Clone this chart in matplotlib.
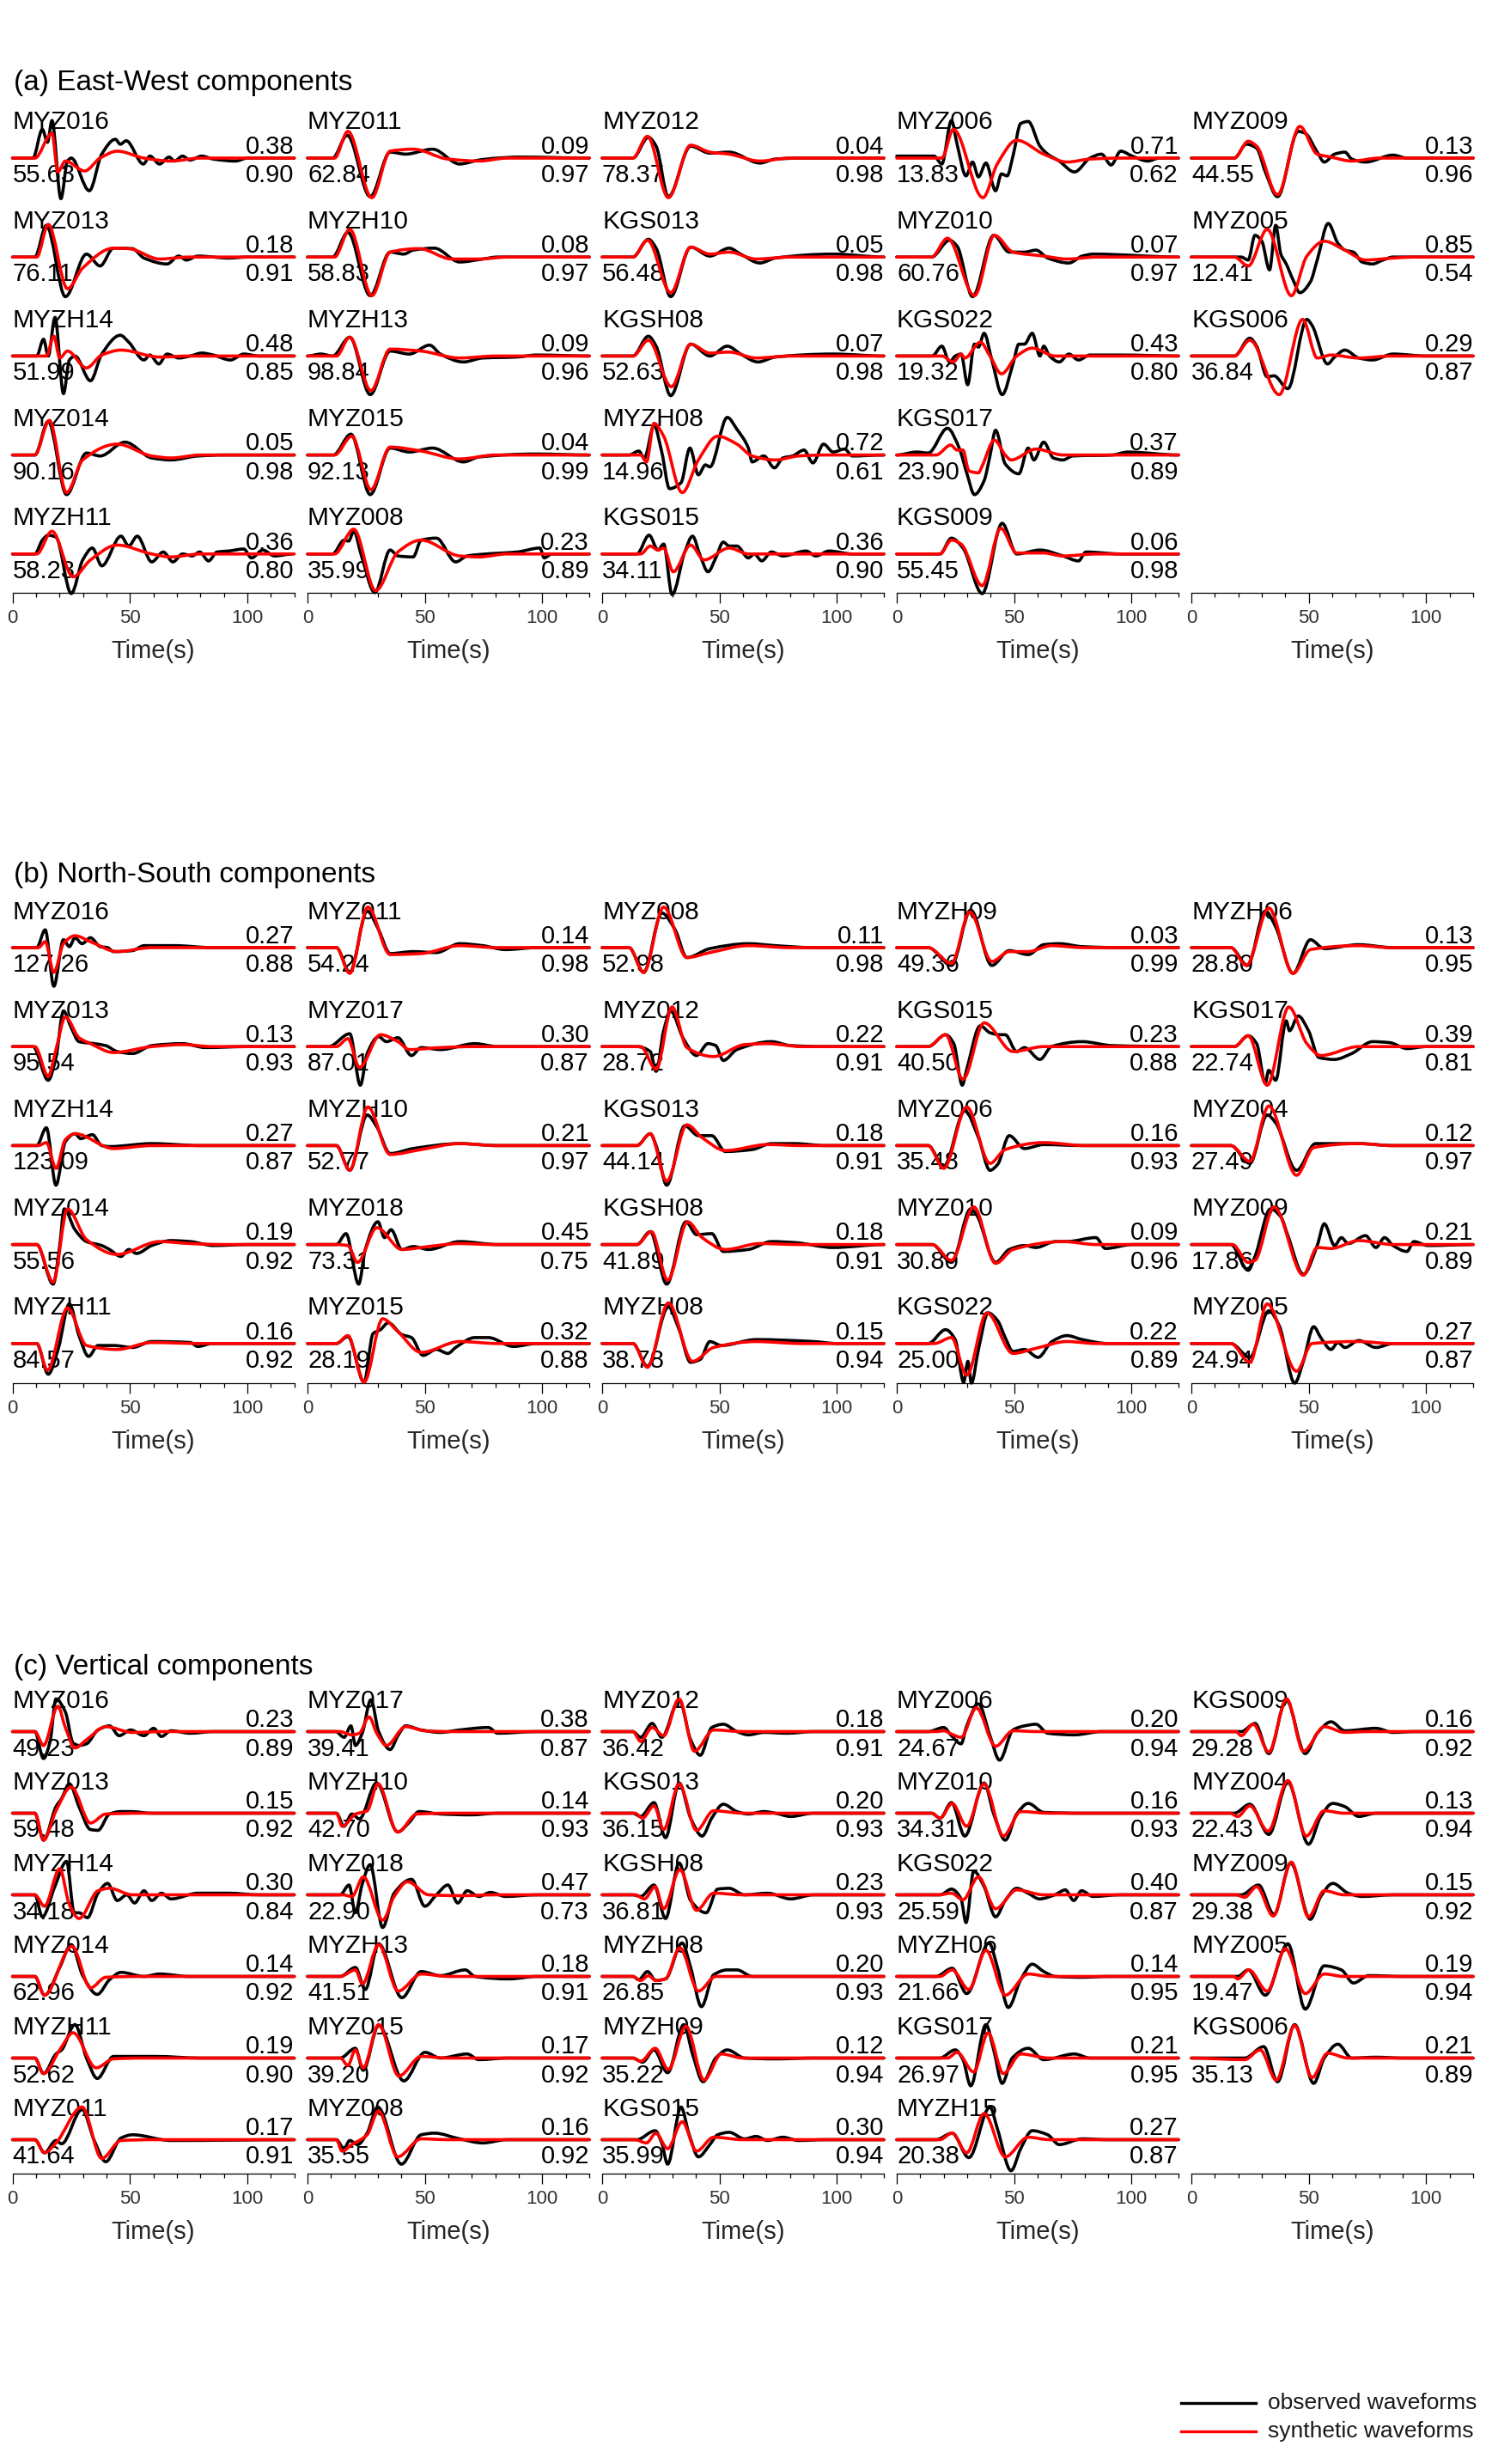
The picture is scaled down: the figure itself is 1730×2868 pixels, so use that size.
import numpy as np
import matplotlib.pyplot as plt
from matplotlib.path import Path
from matplotlib.patches import PathPatch
from matplotlib.ticker import MultipleLocator

plt.rcParams['font.family'] = ['Liberation Sans', 'DejaVu Sans']

# ---------------- (a) East-West ----------------
EW_ROWS = [5, 5, 5, 5, 3]
EW_NAMES = ['MYZ016', 'MYZ013', 'MYZH14', 'MYZ014', 'MYZH11',
            'MYZ011', 'MYZH10', 'MYZH13', 'MYZ015', 'MYZ008',
            'MYZ012', 'KGS013', 'KGSH08', 'MYZH08', 'KGS015',
            'MYZ006', 'MYZ010', 'KGS022', 'KGS017', 'KGS009',
            'MYZ009', 'MYZ005', 'KGS006']
EW_VR = ['0.38', '0.18', '0.48', '0.05', '0.36',
         '0.09', '0.08', '0.09', '0.04', '0.23',
         '0.04', '0.05', '0.07', '0.72', '0.36',
         '0.71', '0.07', '0.43', '0.37', '0.06',
         '0.13', '0.85', '0.29']
EW_AMP = ['55.63', '76.11', '51.99', '90.16', '58.23',
          '62.84', '58.83', '98.84', '92.13', '35.99',
          '78.37', '56.48', '52.63', '14.96', '34.11',
          '13.83', '60.76', '19.32', '23.90', '55.45',
          '44.55', '12.41', '36.84']
EW_CC = ['0.90', '0.91', '0.85', '0.98', '0.80',
         '0.97', '0.97', '0.96', '0.99', '0.89',
         '0.98', '0.98', '0.98', '0.61', '0.90',
         '0.62', '0.97', '0.80', '0.89', '0.98',
         '0.96', '0.54', '0.87']
EW_OBS = [
    [(0,0),(8.7,0),(12.7,.29),(14.9,.16),(16.8,.38),(20.6,-.41),(23.4,-.03),(25,0),(32.7,-.33),(38,.04),(43.8,.19),(45.9,.14),(48.4,.175),(55.7,-.06),(58.5,.02),(62.6,-.06),(66.7,.01),(69,-.03),(72.4,.02),(75.6,-.02),(80.6,.02),(85.5,-.01),(95,-.03),(100,0),(120,0)],
    [(0,0),(9.5,0),(14.4,.32),(22.5,-.40),(31.5,.03),(37.3,-.09),(43,.09),(51,.085),(56,-.01),(65.8,-.07),(70.8,.01),(74,-.03),(79,.01),(92,-.01),(100,0),(120,0)],
    [(0,0),(10.3,0),(13.2,.17),(15.2,0),(18.1,.39),(21.7,-.38),(24.2,-.04),(26.6,0),(33.2,-.25),(38,.02),(45.9,.21),(49.5,.14),(56,-.04),(58.5,.01),(62.3,-.08),(65.8,.02),(70.8,-.02),(75.7,0),(80.6,.03),(85.5,.01),(92.8,-.04),(98.5,.02),(105,0),(120,0)],
    [(0,0),(9.5,0),(15.2,.34),(23,-.40),(31.5,.02),(37.3,-.01),(47.9,.13),(59.3,-.03),(67.5,-.05),(78.9,-.01),(90,0),(120,0)],
    [(0,0),(9.5,0),(12.7,.14),(15.2,.19),(18.5,.17),(25,-.40),(29.9,-.06),(34,.06),(38,-.12),(46.2,.18),(49.5,.08),(53.1,.18),(59.3,-.08),(64.2,.02),(68.3,-.08),(72.4,0),(76.5,-.02),(79.7,.02),(83.5,-.07),(87.1,.02),(92,.03),(98.5,.05),(101.8,-.04),(106.6,.04),(111.6,-.02),(119.3,0)],
    [(0,0),(10.7,0),(16.9,.23),(26.7,-.39),(35.2,.06),(41.8,.04),(53.3,.09),(64.8,-.06),(73,-.02),(81,0),(90,.01),(120,0)],
    [(0,0),(10.7,0),(17.2,.25),(26.7,-.39),(35.2,.05),(41,.03),(45,.07),(54,.09),(64.8,-.05),(74.6,-.02),(81,0),(120,0)],
    [(0,0),(5.7,.02),(10.7,0),(18,.19),(26.7,-.39),(35.2,.05),(43.4,.02),(52,.11),(56.6,.02),(66.4,-.06),(74.6,-.02),(89.3,-.01),(97.5,.01),(120,0)],
    [(0,0),(11,0),(18.5,.21),(26.7,-.40),(35.2,.07),(43.4,.03),(53.3,.07),(66.4,-.07),(73,-.02),(97.5,.01),(120,0)],
    [(0,0),(10.7,0),(15.6,.14),(17.5,.13),(19.7,.23),(23,-.02),(28.7,-.39),(35.2,.04),(38.5,-.02),(45,-.03),(48.4,.14),(54.9,.16),(63.1,-.08),(68,-.02),(76.2,0),(89.3,.02),(99,.06),(100.8,-.04),(104,0),(120,0)],
    [(0,0),(13.1,0),(19.7,.21),(23,.12),(28.2,-.39),(37.7,.12),(45.9,.05),(54.1,.06),(67.2,-.05),(73.8,-.01),(85,0),(120,0)],
    [(0,0),(13.1,0),(19.7,.18),(23,.09),(29.2,-.40),(37.7,.10),(45.9,.01),(54.1,.09),(59,.03),(67.2,-.06),(73.8,-.01),(98.4,.03),(120,0)],
    [(0,0),(13.1,0),(19.7,.20),(23,.10),(29.2,-.40),(37.7,.12),(45.9,0),(53.3,.10),(59,.02),(66.4,-.06),(73.8,-.01),(98.4,.02),(120,0)],
    [(0,0),(11.5,0),(15.6,.04),(18,-.03),(22.1,.30),(25.4,.03),(28.7,-.34),(33.6,-.28),(37.4,.07),(41,-.20),(44,-.10),(45.9,-.12),(53.3,.38),(57.4,.26),(62.3,.07),(63.9,-.07),(68.9,-.01),(73.4,-.13),(77,-.03),(81.1,-.01),(86,.05),(89.8,-.08),(94.3,.11),(98.4,.03),(103.3,.06),(106.6,-.01),(120,0)],
    [(0,0),(14.8,0),(20,.19),(23.8,.04),(26.2,.10),(29.8,-.41),(35.2,.02),(38.5,.18),(41.8,-.02),(45.1,-.18),(48.4,-.04),(51.6,.12),(54.1,.08),(57.4,.08),(62.3,-.04),(64.8,0),(68,-.07),(72.1,.02),(77,-.02),(86.9,.03),(91,-.02),(96.7,.03),(106.6,0),(120,0)],
    [(0,.02),(15.9,.02),(19.2,-.06),(23.3,.38),(25.7,.14),(29.5,-.18),(32.3,-.04),(34.8,-.19),(38,-.05),(42.1,-.33),(44.6,-.16),(47,-.18),(49.5,.02),(52.8,.35),(56,.37),(61,.12),(64.3,.04),(69.2,-.03),(75.7,-.14),(82.3,0),(87.2,.04),(91.3,-.07),(95.4,.07),(100.3,.02),(106.9,-.03),(111.8,0),(120,0)],
    [(0,0),(14.8,0),(22.5,.17),(25.7,.11),(32.3,-.40),(41.3,.22),(47.9,.05),(54.4,.05),(59.3,.07),(64.3,-.01),(73.3,-.06),(79,.01),(83.9,.03),(120,0)],
    [(0,0),(15.1,0),(19.2,.10),(22.5,-.06),(24.9,0),(27.4,.02),(30.2,-.29),(33.1,.12),(34.8,.09),(37.2,.23),(40.5,-.04),(44.9,-.39),(49.5,-.08),(52,.12),(54.4,.12),(57.7,.23),(61,0),(62.6,.10),(65.1,0),(69.2,-.06),(73.3,.02),(77.4,-.04),(82.3,.01),(95.4,.01),(120,0)],
    [(0,0),(8.5,.03),(13.4,.02),(21.6,.27),(26.6,.07),(29.8,-.18),(33.1,-.40),(37.2,-.26),(39.7,-.01),(42.1,.25),(46.2,-.09),(52,-.19),(56,.07),(58.4,-.05),(62.6,.13),(66.7,-.03),(70.8,-.05),(74.9,-.01),(91.8,0),(98.4,.03),(120,0)],
    [(0,0),(18.4,0),(23.3,.16),(28.2,.06),(36.4,-.40),(44.9,.31),(51.1,0),(61,.04),(70.8,-.02),(77.4,-.07),(80.6,.02),(95.4,0),(120,0)],
    [(0,0),(18.3,0),(23.4,.14),(27.8,.10),(31.5,-.14),(36.7,-.39),(45.5,.27),(48.5,.25),(53.6,.06),(56.6,-.04),(61,.04),(65.4,.06),(68.3,-.01),(74.2,-.04),(85.9,.03),(91.8,0),(120,0)],
    [(0,0),(21.2,0),(24.2,-.03),(27.1,.22),(30,.16),(33.3,-.13),(35.9,.32),(38.1,.03),(40.4,-.07),(43.3,-.23),(46.2,-.36),(50.7,-.25),(53.6,-.03),(58.3,.34),(62.4,.14),(65.4,.07),(69,.05),(72.7,-.05),(77.1,-.07),(81.6,-.03),(86,0),(120,0)],
    [(0,0),(18.3,0),(24.9,.18),(27.8,.10),(32.3,-.21),(35.2,-.20),(41.1,-.33),(49.2,.37),(51.4,.31),(58,-.08),(61,-.01),(65.4,.06),(71.3,-.02),(77.1,-.04),(85.9,.02),(100,0),(120,0)],
]
EW_SYN = [
    [(0,0),(9.5,0),(16.8,.25),(19.3,-.14),(22.5,-.03),(30.7,-.13),(37.3,0),(44.6,.07),(56,0),(67.5,-.03),(80,0),(120,0)],
    [(0,0),(10.3,0),(15.2,.33),(23.4,-.32),(29.9,-.11),(43,.09),(49.5,.085),(62.6,-.02),(75,0),(120,0)],
    [(0,0),(14.4,0),(17.6,.2),(20.1,-.02),(23.4,.05),(31.5,-.12),(38,.01),(46.2,.06),(62.6,-.01),(75,0),(120,0)],
    [(0,0),(9.5,0),(15.7,.35),(23,-.38),(29.9,-.05),(44.6,.11),(59.3,-.01),(67.5,-.03),(80,0),(120,0)],
    [(0,0),(10.3,0),(16.8,.23),(25.8,-.23),(33.2,-.06),(44.6,.09),(59.3,0),(67.5,-.03),(80,0),(120,0)],
    [(0,0),(11.5,0),(17.2,.27),(27.4,-.40),(35.2,.07),(45,.09),(59.8,-.01),(73,-.03),(85,0),(120,0)],
    [(0,0),(11.5,0),(18,.28),(27.4,-.39),(35.2,.05),(47.5,.085),(61.5,-.02),(73,-.02),(85,0),(120,0)],
    [(0,0),(12.3,0),(18,.19),(27,-.35),(35.2,.07),(48.4,.05),(64.8,-.02),(80,0),(120,0)],
    [(0,0),(11.5,0),(18.9,.19),(27,-.35),(35.2,.08),(48.4,.04),(64.8,-.04),(80,0),(120,0)],
    [(0,0),(11.5,0),(19.7,.25),(29,-.37),(38.5,.02),(48.4,.14),(64.8,-.02),(73,-.03),(85,0),(120,0)],
    [(0,0),(13.1,0),(19.3,.22),(28.2,-.40),(37.7,.13),(45.9,.06),(54.1,.04),(67.2,-.03),(80,0),(120,0)],
    [(0,0),(13.1,0),(19.3,.17),(29.2,-.36),(37.7,.10),(45.9,.03),(54.1,.05),(65.6,-.02),(80,0),(120,0)],
    [(0,0),(13.1,0),(19.7,.16),(29.5,-.31),(37.7,.12),(45.9,.03),(54.1,.04),(65.6,-.02),(80,0),(120,0)],
    [(0,0),(16.4,0),(18.9,-.07),(22.1,.32),(26.2,.19),(34.1,-.38),(41,-.05),(49.2,.19),(57.4,.11),(63.9,-.01),(73.8,-.05),(83.6,-.01),(95,0),(120,0)],
    [(0,0),(16.4,0),(20.5,.08),(23.8,.04),(26.2,.06),(30.3,-.18),(37.7,.09),(43.4,-.06),(54.1,.06),(62.3,0),(75,0),(120,0)],
    [(0,0),(19.2,0),(24.1,.29),(36.7,-.40),(42.8,-.06),(51.1,.18),(62.6,.04),(72.5,-.04),(82.3,-.01),(95,0),(120,0)],
    [(0,0),(14.8,0),(21.6,.19),(33.1,-.39),(41.6,.22),(49.5,.05),(62.6,.01),(72.5,-.02),(85,0),(120,0)],
    [(0,0),(19.2,0),(24.1,-.06),(27.4,.02),(29,-.02),(35.6,.14),(39.7,0),(44.6,-.18),(51.1,0),(57.7,.08),(67.5,0),(120,0)],
    [(0,0),(16.7,0),(23,.10),(25.7,.05),(28.2,.05),(30.7,-.16),(34.8,-.18),(36.4,-.11),(41.6,.15),(46.2,0),(48.7,-.05),(59.3,.06),(70.8,0),(120,0)],
    [(0,0),(18.4,0),(23.3,.14),(27.4,.10),(36.4,-.32),(44.3,.26),(51.1,.01),(62.6,.01),(70.8,-.02),(85,0),(120,0)],
    [(0,0),(18.3,0),(24.2,.17),(27.8,.12),(36.7,-.37),(46.2,.32),(53.6,.04),(59.5,.01),(68.3,-.03),(80,0),(120,0)],
    [(0,0),(18.3,0),(24.2,-.09),(32.3,.28),(42.6,-.39),(49.2,.01),(56.6,.16),(65.4,.07),(74.2,-.03),(85.9,-.01),(95,0),(120,0)],
    [(0,0),(18.3,0),(24.9,.16),(37.4,-.39),(47.4,.37),(53.6,-.02),(59.5,.01),(71.3,-.02),(85,0),(120,0)],
]

# ---------------- (b) North-South ----------------
NS_ROWS = [5, 5, 5, 5, 5]
NS_NAMES = ['MYZ016', 'MYZ013', 'MYZH14', 'MYZ014', 'MYZH11',
            'MYZ011', 'MYZ017', 'MYZH10', 'MYZ018', 'MYZ015',
            'MYZ008', 'MYZ012', 'KGS013', 'KGSH08', 'MYZH08',
            'MYZH09', 'KGS015', 'MYZ006', 'MYZ010', 'KGS022',
            'MYZH06', 'KGS017', 'MYZ004', 'MYZ009', 'MYZ005']
NS_VR = ['0.27', '0.13', '0.27', '0.19', '0.16',
         '0.14', '0.30', '0.21', '0.45', '0.32',
         '0.11', '0.22', '0.18', '0.18', '0.15',
         '0.03', '0.23', '0.16', '0.09', '0.22',
         '0.13', '0.39', '0.12', '0.21', '0.27']
NS_AMP = ['127.26', '95.54', '123.09', '55.56', '84.57',
          '54.24', '87.01', '52.77', '73.31', '28.19',
          '52.98', '28.72', '44.14', '41.89', '38.78',
          '49.36', '40.50', '35.48', '30.80', '25.00',
          '28.80', '22.74', '27.49', '17.86', '24.94']
NS_CC = ['0.88', '0.93', '0.87', '0.92', '0.92',
         '0.98', '0.87', '0.97', '0.75', '0.88',
         '0.98', '0.91', '0.91', '0.91', '0.94',
         '0.99', '0.88', '0.93', '0.96', '0.89',
         '0.95', '0.81', '0.97', '0.89', '0.87']
NS_OBS = [
    [(0,0),(10.3,0),(13.9,.18),(17.6,-.39),(21.7,.08),(24.2,.01),(26.6,.10),(29.6,.04),(33.2,.10),(37.3,.01),(40.5,0),(43,-.04),(51.1,-.03),(56,.02),(69,.02),(85,0),(120,0)],
    [(0,0),(8.7,0),(15.2,-.34),(18.5,-.11),(21.7,.36),(25,.19),(28.3,.05),(34.8,.03),(39.7,.01),(44.6,-.05),(51.1,-.07),(59.3,.01),(72.4,.03),(82.2,-.01),(100,0),(120,0)],
    [(0,0),(10.3,0),(14.4,.18),(18.5,-.40),(22.5,.04),(26.6,.12),(29,.07),(34,.11),(38,0),(41.3,-.01),(59.3,.02),(80,0),(120,0)],
    [(0,0),(10.3,0),(17.3,-.40),(20.1,-.01),(22,.36),(26.6,.15),(31.5,.03),(38,-.01),(41.3,-.05),(46.2,-.12),(49.5,-.05),(52.8,-.09),(59.3,-.01),(67.5,.04),(75.7,.03),(85.5,-.01),(100,0),(120,0)],
    [(0,0),(10.3,0),(15.2,-.31),(19.5,-.05),(24.2,.40),(28.3,.08),(32.4,-.13),(36.4,-.02),(43,-.02),(51.1,-.04),(59.3,.02),(75.7,.01),(78.9,-.03),(85,0),(120,0)],
    [(0,0),(12.3,0),(18,-.25),(25.4,.37),(30.3,.18),(35.2,-.06),(45,-.04),(54.9,-.05),(64.8,.04),(74.6,.02),(84.4,-.02),(97.5,0),(120,0)],
    [(0,0),(9,0),(18,.13),(22.5,-.39),(25.4,-.07),(30.3,.10),(33.6,.05),(38.5,.09),(44.3,-.09),(48.4,-.01),(56.6,-.03),(71.3,.03),(81,0),(120,0)],
    [(0,0),(12.3,0),(18,-.25),(25.4,.31),(29.5,.19),(35.2,-.08),(45,-.03),(64.8,.02),(81,0),(120,0)],
    [(0,0),(12.3,0),(16.4,.11),(21.8,-.40),(24.6,-.05),(30,.23),(32.8,.07),(35.6,.15),(40.2,-.05),(45,-.02),(51.6,-.05),(64.8,.03),(81,0),(120,0)],
    [(0,0),(12.3,0),(17.2,.07),(24.1,-.39),(27.9,.10),(31.1,.14),(34.4,.21),(40.2,.09),(44.3,.06),(49.2,-.12),(54.9,-.06),(59.8,-.10),(63.1,-.04),(71.3,.06),(77,.06),(87.7,-.03),(97.5,0),(120,0)],
    [(0,0),(11.5,0),(17.7,-.25),(25.4,.35),(31.1,.18),(36.1,-.10),(45.9,-.01),(62.3,.04),(73.8,.02),(90,0),(120,0)],
    [(0,0),(14.8,0),(20.5,-.05),(23,-.25),(26.2,.16),(29.2,.36),(34.4,.09),(40.2,-.09),(45.1,.03),(48.4,.01),(51.6,-.14),(57.4,-.03),(72.1,.05),(80.3,.01),(95,0),(120,0)],
    [(0,0),(14.8,0),(20.5,.12),(23,0),(27.5,-.40),(35.2,.20),(41,.10),(46.7,.10),(52.5,-.06),(64,-.04),(72.1,.02),(82,.02),(95,0),(120,0)],
    [(0,0),(14.8,0),(20.5,.13),(27.5,-.40),(35.7,.23),(40.2,.10),(46.7,.11),(51.6,-.07),(62.3,-.05),(72.1,.03),(82,.02),(98.4,-.03),(120,0)],
    [(0,0),(13.1,0),(19.3,-.23),(28.2,.37),(32.8,.14),(37.7,-.19),(41.8,-.16),(45.9,.02),(50.8,-.02),(65.6,.04),(90,.02),(100,0),(120,0)],
    [(0,0),(13.4,0),(23.3,-.18),(31.5,.38),(40.5,-.18),(47.9,-.03),(56,-.07),(62.6,.03),(69.2,.04),(79,.01),(95,0),(120,0)],
    [(0,0),(13.4,0),(20.8,.12),(24.3,.03),(27.9,-.39),(29.8,-.23),(35.6,.21),(39.7,.14),(43.8,.12),(46.2,.12),(51.1,-.05),(54.4,-.01),(61,-.13),(65.9,0),(79,.05),(91.8,.01),(120,0)],
    [(0,0),(13.4,0),(20,-.21),(29,.35),(34.8,.08),(39.7,-.25),(43,-.19),(47.9,.10),(54.4,-.03),(62.6,.01),(79,0),(120,0)],
    [(0,0),(15.1,0),(23.3,-.18),(31.5,.36),(34,.30),(42.1,-.18),(47.9,-.05),(54.4,-.01),(59.3,-.03),(67.5,.03),(72.5,.03),(84.8,.07),(88.9,-.04),(100.3,0),(120,0)],
    [(0,0),(13.4,0),(20.8,.14),(24.9,.04),(28.5,-.39),(30.3,-.18),(31.8,-.40),(34.8,-.06),(38.9,.31),(43,.23),(46.2,.06),(49.5,-.08),(54.4,-.06),(60.2,-.14),(66.1,.02),(72.5,.08),(79,.04),(90,0),(120,0)],
    [(0,0),(16.8,0),(23.9,-.18),(31.5,.37),(35.9,.21),(43.3,-.26),(50.7,.08),(56.6,-.01),(71.3,.03),(85.9,0),(120,0)],
    [(0,0),(18.3,0),(24.2,.11),(27.8,.03),(31.5,-.37),(32.9,-.24),(35.9,-.34),(40.4,.26),(41.8,.16),(45.5,.31),(49.9,.16),(54.3,-.11),(60.9,-.13),(68.3,-.07),(77.2,.05),(84.5,.04),(91.9,-.02),(100,0),(120,0)],
    [(0,0),(16.8,0),(24.9,-.18),(32.3,.31),(35.9,.23),(44.8,-.25),(52.9,.02),(71.3,.02),(85.9,0),(120,0)],
    [(0,0),(16.8,0),(24.2,-.26),(27.1,-.12),(33.7,.36),(38.1,.28),(41.1,.09),(47.7,-.30),(53.6,-.01),(56.6,.21),(61,-.01),(63.9,.07),(66.8,.01),(74.2,.09),(78.6,-.03),(82.3,.07),(85.9,-.01),(91.8,-.07),(94.8,.03),(100.7,-.01),(120,0)],
    [(0,0),(16.8,0),(24.9,-.14),(33,.33),(37.4,.18),(44,-.40),(47.7,-.18),(52.1,.17),(55.1,.06),(59.5,-.06),(62.4,.01),(65.4,-.04),(71.3,.03),(78.6,-.04),(85.9,0),(120,0)],
]
NS_SYN = [
    [(0,0),(11,0),(13.9,.06),(17.6,-.25),(21.7,.04),(26.6,.12),(33.2,.06),(44.6,-.04),(59.3,0),(120,0)],
    [(0,0),(9.5,0),(15.2,-.30),(18.5,-.03),(22.5,.30),(28.3,.09),(33.2,.03),(43,-.06),(59.3,0),(72.4,.02),(85,0),(120,0)],
    [(0,0),(11,0),(14.4,.03),(18.5,-.23),(22.5,.06),(26.6,.12),(43,-.03),(59.3,0),(120,0)],
    [(0,0),(10.3,0),(17.3,-.38),(23.4,.36),(31.5,.05),(44.6,-.10),(62.6,.03),(75.7,.01),(90,0),(120,0)],
    [(0,0),(10.3,0),(14.9,-.27),(23.4,.36),(31.5,-.02),(44.6,-.06),(59.3,.01),(80,0),(120,0)],
    [(0,0),(12.3,0),(18,-.26),(25.7,.41),(35.2,-.07),(48.4,-.06),(64.8,.02),(81,0),(120,0)],
    [(0,0),(12.3,0),(17.2,.08),(22.1,-.21),(31.1,.12),(38.5,.05),(43.4,-.03),(56.6,-.01),(70,0),(120,0)],
    [(0,0),(12.3,0),(18,-.25),(25.7,.39),(35.2,-.09),(48.4,-.04),(64.8,.02),(80,0),(120,0)],
    [(0,0),(12.3,0),(17.2,-.01),(21.3,-.18),(29.5,.17),(40.2,-.05),(51.6,-.02),(64.8,.01),(80,0),(120,0)],
    [(0,0),(12.3,0),(17.2,.08),(24.1,-.39),(32,.25),(38.5,.12),(48.4,-.09),(64.8,.02),(81,0),(120,0)],
    [(0,0),(11.5,0),(17.7,-.25),(26.2,.41),(36.1,-.10),(45.9,-.05),(62.3,.02),(80,0),(120,0)],
    [(0,0),(16.4,0),(23,-.23),(29.8,.40),(36.1,-.01),(47.5,-.10),(60.7,.02),(70.5,.03),(85,0),(120,0)],
    [(0,0),(14.8,0),(20.5,.12),(27.5,-.36),(36.1,.21),(42.6,.08),(52.5,-.05),(70.5,.01),(85,0),(120,0)],
    [(0,0),(14.8,0),(21,.13),(27.9,-.36),(36.4,.23),(42.6,.07),(52.5,-.05),(67.2,.01),(85,0),(120,0)],
    [(0,0),(13.1,0),(19.3,-.24),(28.2,.41),(38.5,-.18),(47.5,-.04),(65.6,.02),(85,0),(120,0)],
    [(0,0),(13.4,0),(23.3,-.16),(31.1,.36),(40.5,-.14),(47.9,-.04),(56,-.04),(65.9,.02),(80,0),(120,0)],
    [(0,0),(13.4,0),(20.8,.12),(28.2,-.33),(37.2,.24),(49.5,-.05),(62.6,0),(120,0)],
    [(0,0),(13.4,0),(20,-.23),(29.8,.39),(39.7,-.18),(46.2,-.04),(62.6,.03),(80,0),(120,0)],
    [(0,0),(15.1,0),(23.3,-.16),(32.8,.38),(42.1,-.19),(49.5,-.05),(70.8,.03),(85,0),(120,0)],
    [(0,0),(16,0),(23.3,.06),(29.8,-.32),(38.4,.31),(49.5,-.10),(59,-.05),(72.5,.02),(85,0),(120,0)],
    [(0,0),(16.8,0),(23.4,-.18),(33,.40),(43.3,-.26),(50.7,-.02),(71.3,.02),(85,0),(120,0)],
    [(0,0),(18.3,0),(24.2,.11),(32.3,-.39),(41.5,.40),(49.2,.03),(55.1,-.09),(71.3,0),(120,0)],
    [(0,0),(16.8,0),(24.9,-.16),(33,.40),(44.8,-.30),(52.1,-.02),(71.3,.02),(85,0),(120,0)],
    [(0,0),(17.5,0),(24.2,-.18),(27.1,-.16),(35.2,.38),(47.7,-.31),(53.6,-.03),(59.5,-.04),(71.3,.04),(85.9,0),(120,0)],
    [(0,0),(16.8,0),(24.9,-.19),(32.3,.40),(44.8,-.28),(51.4,0),(71.3,.02),(85,0),(120,0)],
]

# ---------------- (c) Vertical ----------------
UD_ROWS = [6, 6, 6, 6, 5]
UD_NAMES = ['MYZ016', 'MYZ013', 'MYZH14', 'MYZ014', 'MYZH11', 'MYZ011',
            'MYZ017', 'MYZH10', 'MYZ018', 'MYZH13', 'MYZ015', 'MYZ008',
            'MYZ012', 'KGS013', 'KGSH08', 'MYZH08', 'MYZH09', 'KGS015',
            'MYZ006', 'MYZ010', 'KGS022', 'MYZH06', 'KGS017', 'MYZH15',
            'KGS009', 'MYZ004', 'MYZ009', 'MYZ005', 'KGS006']
UD_VR = ['0.23', '0.15', '0.30', '0.14', '0.19', '0.17',
         '0.38', '0.14', '0.47', '0.18', '0.17', '0.16',
         '0.18', '0.20', '0.23', '0.20', '0.12', '0.30',
         '0.20', '0.16', '0.40', '0.14', '0.21', '0.27',
         '0.16', '0.13', '0.15', '0.19', '0.21']
UD_AMP = ['49.23', '59.48', '34.18', '62.96', '52.62', '41.64',
          '39.41', '42.70', '22.90', '41.51', '39.20', '35.55',
          '36.42', '36.15', '36.81', '26.85', '35.22', '35.99',
          '24.67', '34.31', '25.59', '21.66', '26.97', '20.38',
          '29.28', '22.43', '29.38', '19.47', '35.13']
UD_CC = ['0.89', '0.92', '0.84', '0.92', '0.90', '0.91',
         '0.87', '0.93', '0.73', '0.91', '0.92', '0.92',
         '0.91', '0.93', '0.93', '0.93', '0.94', '0.94',
         '0.94', '0.93', '0.87', '0.95', '0.95', '0.87',
         '0.92', '0.94', '0.92', '0.94', '0.89']
UD_OBS = [
    [(0,0),(9.5,0),(13.2,-.33),(16,-.12),(18.5,.40),(22.5,.24),(25.8,-.14),(28.3,-.17),(31.5,-.15),(36.4,.02),(41.3,.07),(45.4,-.05),(50.3,.02),(56,-.05),(60.1,.04),(63.4,-.06),(67.5,.01),(75.7,-.02),(85.5,0),(120,0)],
    [(0,0),(9.5,0),(13.2,-.33),(18.5,.08),(20.9,.18),(24.2,.36),(28.3,.08),(33.2,-.20),(36.4,-.21),(41.3,-.01),(46.2,.02),(50.3,.02),(59.3,0),(120,0)],
    [(0,0),(9.5,0),(12.7,-.27),(18,.1),(23,.41),(26.3,-.22),(28.3,-.22),(31.9,-.28),(36.4,.02),(40.5,.14),(44.6,-.07),(48.7,0),(52,-.10),(56,.05),(59.3,-.07),(63.4,.02),(67.5,-.05),(79,.02),(92,.02),(105,0),(120,0)],
    [(0,0),(9.5,0),(13.6,-.23),(20.1,.11),(25,.39),(29.9,.01),(36.1,-.22),(41.3,-.04),(46.2,.05),(56,0),(62.6,.03),(75,0),(120,0)],
    [(0,0),(9.5,0),(13.2,-.19),(18.5,.05),(20.9,.10),(26.6,.41),(31.5,0),(36.1,-.25),(43,.02),(51.1,.02),(60.9,.02),(80,0),(120,0)],
    [(0,0),(9.5,0),(13.6,-.16),(18.5,-.01),(20.9,-.05),(29.6,.37),(34.8,-.01),(39.7,-.27),(46.2,.02),(51.1,.06),(67.5,-.01),(120,0)],
    [(0,0),(12,0),(15.6,-.07),(18.5,.07),(20.4,-.17),(23.3,-.02),(27,.39),(30.3,0),(35.2,-.22),(38.5,-.05),(41.8,.07),(48.4,.02),(56.6,-.01),(64.8,.02),(77,.05),(81,-.02),(97.5,0),(120,0)],
    [(0,0),(12.3,0),(15.5,-.16),(18.9,-.01),(22.1,-.07),(29.4,.37),(38.4,-.23),(43.4,-.11),(47.5,.02),(56.6,-.01),(69.7,-.02),(81,0),(120,0)],
    [(0,0),(13.9,0),(17.7,.12),(20.4,-.22),(23.2,.12),(26.7,.37),(32,-.40),(36.9,.02),(44.3,.19),(50,-.14),(54.9,0),(59.8,.12),(64,-.10),(68,.05),(73,-.02),(77.9,.03),(84.4,-.02),(97.5,0),(120,0)],
    [(0,0),(13.9,0),(20.4,.11),(24.6,-.16),(30.3,.40),(40.2,-.26),(48.4,.06),(56.6,.01),(67.2,.08),(71.3,0),(86,-.03),(97.5,0),(120,0)],
    [(0,0),(13.9,0),(20.4,.12),(23.7,-.15),(30.3,.40),(41,-.28),(50,.07),(56.6,0),(68,.05),(73,-.02),(85,0),(120,0)],
    [(0,0),(12.3,0),(15.5,-.11),(18,-.01),(21.3,-.06),(25.4,.08),(29.9,.40),(40,-.30),(48.4,.06),(54.1,.08),(64.8,.01),(74.6,-.04),(85,0),(120,0)],
    [(0,0),(13.1,0),(16.4,-.07),(21.3,.10),(25.4,-.07),(32.8,.39),(37.7,-.10),(41.8,-.29),(46.7,.05),(51.6,.09),(57.4,0),(62.3,-.04),(68.9,-.01),(78.7,-.02),(90,0),(120,0)],
    [(0,0),(13.1,0),(16.4,-.04),(22.1,.13),(27,-.30),(32.8,.37),(37.7,-.06),(42.6,-.28),(46.7,-.06),(51.6,.11),(57.4,.02),(62.3,-.01),(68.9,.02),(73.8,0),(80.3,-.04),(90,0),(120,0)],
    [(0,0),(13.1,0),(16.4,-.02),(22.1,.12),(27,-.29),(32.8,.39),(37.7,-.07),(44.3,-.22),(49.2,.07),(54.1,.08),(60.7,0),(70.5,.02),(80.3,-.05),(90,0),(120,0)],
    [(0,0),(13.1,0),(15.6,-.04),(19.3,.06),(22.9,-.05),(27,-.03),(34.1,.41),(37.7,.11),(42.3,-.37),(47.5,.02),(53.3,.08),(57.4,.08),(64,0),(120,0)],
    [(0,0),(13.1,0),(17.2,-.05),(22.1,.10),(27.9,-.18),(34.8,.41),(38.5,.05),(43,-.29),(48.4,0),(53.3,.10),(60.7,0),(73.8,-.01),(90,0),(120,0)],
    [(0,0),(14.8,0),(22.6,.11),(25.4,-.04),(27.9,-.30),(33.6,.40),(36.9,.08),(41,-.21),(45.9,-.06),(49.2,.06),(54.1,.09),(60.7,.01),(65.6,.04),(70.5,-.01),(77,.03),(83.6,-.01),(95,0),(120,0)],
    [(0,0),(13.4,0),(20,.05),(23.3,-.05),(27.4,-.15),(29.8,.07),(34.8,.34),(39.7,-.05),(43.8,-.35),(49.5,.02),(54.4,.07),(59.3,.09),(64.3,-.02),(75.7,-.04),(87.2,0),(120,0)],
    [(0,0),(14.8,0),(18.5,-.06),(23.3,.13),(29,-.28),(37.2,.37),(41.3,-.01),(46.2,-.33),(51.1,-.01),(56,.12),(62.6,.01),(79,0),(120,0)],
    [(0,0),(16,0),(18.5,0),(23.3,.07),(27.4,-.05),(29.5,-.34),(32.8,.29),(37.2,.10),(42.1,-.27),(46.2,-.07),(51.1,.08),(55.9,.02),(60.8,-.05),(67.3,0),(71.8,.06),(75.4,-.07),(78.7,.05),(83.6,-.02),(95,0),(120,0)],
    [(0,0),(16.7,0),(23.6,.10),(29.8,-.21),(39.3,.41),(42.9,.11),(47.5,-.38),(52.8,-.04),(57.7,.15),(62.6,.06),(67.5,0),(79,-.01),(90,0),(120,0)],
    [(0,0),(18.3,0),(24.9,.10),(28.2,-.02),(31.5,-.34),(38,.41),(41.3,.10),(44.9,-.31),(49.2,0),(56,.12),(62.6,-.02),(75.7,.05),(82.3,0),(95,0),(120,0)],
    [(0,0),(16.7,0),(23.6,.08),(30.7,-.22),(39.7,.40),(42.9,.13),(48.7,-.38),(52.8,-.11),(57.7,.11),(64.3,.06),(69.2,-.06),(79,.01),(90,0),(120,0)],
    [(0,0),(21.2,0),(27.1,.10),(33,-.27),(40.4,.39),(48.5,-.27),(53.6,-.02),(59.5,.12),(65.4,.01),(78.6,.04),(85.9,-.01),(95,0),(120,0)],
    [(0,0),(18.3,0),(24.9,.11),(33,-.26),(41.1,.38),(49.9,-.38),(55.1,-.04),(60.2,.12),(65.4,.08),(71.3,-.04),(78.6,0),(120,0)],
    [(0,0),(21.2,0),(28.6,.12),(35.2,-.24),(42.3,.39),(50.7,-.30),(55.1,-.02),(60.2,.14),(66.8,.02),(72.7,-.02),(85.9,0),(120,0)],
    [(0,0),(19.7,0),(24.2,.08),(31.5,-.23),(41.1,.40),(48.5,-.40),(56.6,.13),(63.9,.08),(69,-.08),(75.6,.01),(90,0),(120,0)],
    [(0,0),(22.7,0),(30.8,.14),(36.7,-.29),(44,.41),(52.1,-.31),(56.6,0),(62.4,.17),(68.3,0),(78.6,.01),(90,0),(120,0)],
]
UD_SYN = [
    [(0,0),(9.5,0),(13.2,-.17),(19.3,.31),(22.5,.05),(26.6,-.20),(31.5,-.10),(39.7,.06),(51.1,-.01),(65,0),(120,0)],
    [(0,0),(9.5,0),(13.2,-.33),(18.5,.03),(25,.32),(33.2,-.12),(39.7,-.01),(55,0),(120,0)],
    [(0,0),(9.5,0),(13.6,-.14),(20.1,.32),(24.2,-.12),(28.3,-.29),(36.4,.05),(41.3,.08),(51.1,0),(120,0)],
    [(0,0),(9.5,0),(13.6,-.23),(25.3,.37),(33.2,-.14),(39.7,-.01),(55,0),(120,0)],
    [(0,0),(9.5,0),(13.2,-.19),(20.1,.10),(25.8,.31),(35.6,-.12),(43,-.01),(55,0),(120,0)],
    [(0,0),(9.5,0),(13.6,-.16),(18.5,-.04),(29.6,.40),(38,-.23),(46.2,-.01),(60,0),(120,0)],
    [(0,0),(13.8,0),(18.9,-.04),(22.1,-.02),(26.2,.18),(29.5,-.02),(33.6,-.17),(41.8,.06),(50,.01),(60,0),(120,0)],
    [(0,0),(12.3,0),(14.8,-.16),(20.5,-.01),(25.4,.03),(30,.36),(38.4,-.23),(46.6,-.01),(60,0),(120,0)],
    [(0,0),(15,0),(18.9,-.02),(23.8,.22),(32,-.31),(36.9,-.02),(42.6,.16),(51.6,0),(64.8,-.01),(80,0),(120,0)],
    [(0,0),(13.9,0),(20.4,.08),(23.4,-.09),(30.3,.39),(38.6,-.18),(48.4,.03),(60,0),(120,0)],
    [(0,0),(14,0),(17.2,-.09),(20.4,.10),(23.7,-.12),(30.3,.41),(38.9,-.22),(48.4,.02),(60,0),(120,0)],
    [(0,0),(12.3,0),(14.7,-.14),(18.9,-.06),(25.4,.06),(30.2,.35),(38.4,-.21),(48.4,.01),(60,0),(120,0)],
    [(0,0),(13.1,0),(16.4,-.12),(21.3,.05),(26.2,-.05),(32.8,.40),(39.3,-.24),(47.5,.02),(60,0),(120,0)],
    [(0,0),(14,0),(17.2,-.06),(22.1,.09),(26.2,-.20),(32.8,.36),(40.2,-.21),(47.5,.03),(60,0),(120,0)],
    [(0,0),(14,0),(18,-.05),(22.6,.10),(26.2,-.17),(33.1,.31),(40.2,-.19),(47.5,.02),(60,0),(120,0)],
    [(0,0),(13.1,0),(16.4,-.05),(19.7,.01),(22.9,-.05),(27,-.03),(33.1,.35),(41,-.18),(48.4,0),(60,0),(120,0)],
    [(0,0),(13.1,0),(16.4,-.04),(22.6,.12),(28.2,-.14),(35.7,.39),(43.4,-.27),(50.8,.05),(60,0),(120,0)],
    [(0,0),(14,0),(18.9,-.04),(22.9,.08),(27.9,-.11),(34.1,.22),(40.2,-.14),(47.5,.03),(60,0),(120,0)],
    [(0,0),(16.7,0),(20,.01),(23.3,-.03),(27.4,-.07),(33.9,.29),(42.1,-.18),(49.5,.01),(60,0),(120,0)],
    [(0,0),(14.8,0),(18.5,-.06),(23.6,.12),(29.8,-.16),(37.2,.36),(45.4,-.28),(52.8,.02),(65,0),(120,0)],
    [(0,0),(18,0),(23.3,.02),(28.2,-.06),(34.8,.22),(42.1,-.17),(51.1,.06),(62.6,0),(120,0)],
    [(0,0),(18.3,0),(23.6,.08),(30.7,-.16),(38,.32),(46.2,-.23),(56,.03),(65,0),(120,0)],
    [(0,0),(21.6,0),(25.7,.07),(32.8,-.17),(38.9,.31),(45.4,-.19),(52.8,.05),(65,0),(120,0)],
    [(0,0),(18.3,0),(23.6,.08),(29.8,-.16),(37.2,.32),(46.2,-.21),(55.9,.03),(65,0),(120,0)],
    [(0,0),(19,0),(21.2,-.05),(26.4,.09),(33,-.25),(40.6,.40),(47.7,-.24),(56.6,.06),(65.4,-.01),(75,0),(120,0)],
    [(0,0),(16.5,0),(19.7,-.04),(24.9,.09),(32.7,-.22),(41.1,.40),(48.9,-.28),(56.6,.03),(65,0),(120,0)],
    [(0,0),(19,0),(22.7,-.03),(27.8,.10),(34.9,-.26),(42.6,.40),(49.9,-.27),(56.6,.05),(65,0),(120,0)],
    [(0,0),(18,0),(19.7,-.03),(24.5,.08),(32.3,-.18),(40,.34),(48.5,-.21),(56.6,.03),(65,0),(120,0)],
    [(0,0),(22.7,-.02),(29.3,.10),(36.2,-.27),(44,.40),(51.4,-.24),(58,.06),(66.8,0),(120,0)],
]

PANEL_TITLES = ['(a) East-West components', '(b) North-South components', '(c) Vertical components']

# ---------------- layout (pixels of the 1730x2868 canvas) ----------------
W, H = 1730, 2868
COL_LEFT = [14.6, 358, 701, 1044, 1387]
COL_W = 328.0
# first baseline, row spacing, axis line, title y
PANEL_GEOM = [(184, 115.2, 690, 97), (1103, 115.2, 1610, 1018), (2015.5, 95.0, 2530, 1941)]


def pchip_path(pts):
    """Smooth shape-preserving curve through the read points (Bezier segments)."""
    p = np.asarray(pts, float)
    t, y = p[:, 0], p[:, 1]
    n = len(t)
    h = np.diff(t)
    dl = np.diff(y) / h
    d = np.zeros(n)
    for i in range(1, n - 1):
        if dl[i - 1] * dl[i] > 0:
            w1 = 2 * h[i] + h[i - 1]
            w2 = h[i] + 2 * h[i - 1]
            d[i] = (w1 + w2) / (w1 / dl[i - 1] + w2 / dl[i])
    verts = [(t[0], y[0])]
    codes = [Path.MOVETO]
    for i in range(n - 1):
        verts += [(t[i] + h[i] / 3, y[i] + d[i] * h[i] / 3),
                  (t[i + 1] - h[i] / 3, y[i + 1] - d[i + 1] * h[i] / 3),
                  (t[i + 1], y[i + 1])]
        codes += [Path.CURVE4] * 3
    return Path(verts, codes)


fig = plt.figure(figsize=(W / 100, H / 100), dpi=100)

panels = [
    (EW_ROWS, EW_NAMES, EW_VR, EW_AMP, EW_CC, EW_OBS, EW_SYN),
    (NS_ROWS, NS_NAMES, NS_VR, NS_AMP, NS_CC, NS_OBS, NS_SYN),
    (UD_ROWS, UD_NAMES, UD_VR, UD_AMP, UD_CC, UD_OBS, UD_SYN),
]

for p, (rows, names, vr, amp, cc, obs, syn) in enumerate(panels):
    y0, s, yax, ytitle = PANEL_GEOM[p]
    fig.text(16 / W, 1 - ytitle / H, PANEL_TITLES[p], fontsize=24,
             ha='left', va='center', color='black')
    top_px = y0 - 0.75 * s
    k = 0
    for c, nrow in enumerate(rows):
        ax = fig.add_axes([COL_LEFT[c] / W, 1 - yax / H, COL_W / W, (yax - top_px) / H])
        ax.set_xlim(0, 120)
        ax.set_ylim(-(yax - y0) / s, 0.75)
        for sp in ['top', 'left', 'right']:
            ax.spines[sp].set_visible(False)
        ax.spines['bottom'].set_linewidth(0.9)
        ax.set_yticks([])
        ax.xaxis.set_major_locator(MultipleLocator(50))
        ax.xaxis.set_minor_locator(MultipleLocator(10))
        ax.tick_params(axis='x', which='major', length=8.6, width=0.9, pad=5,
                       labelsize=16, labelcolor='#333333')
        ax.tick_params(axis='x', which='minor', length=3.6, width=0.9)
        ax.set_xlabel('Time(s)', fontsize=21, color='#262626')
        ax.xaxis.set_label_coords(0.5, -54 / (yax - top_px))
        ax.xaxis.label.set_va('top')
        for r in range(nrow):
            base = -r
            ax.add_patch(PathPatch(pchip_path([(tt, aa + base) for tt, aa in obs[k]]),
                                   fill=False, edgecolor='black', lw=2.6,
                                   joinstyle='round', capstyle='round', zorder=3, clip_on=False))
            ax.add_patch(PathPatch(pchip_path([(tt, aa + base) for tt, aa in syn[k]]),
                                   fill=False, edgecolor='#ff0000', lw=2.6,
                                   joinstyle='round', capstyle='round', zorder=4, clip_on=False))
            lab_up = (33.5 if p < 2 else 27.5) / s
            ax.text(0, base + lab_up, names[k], fontsize=21.5, ha='left', va='baseline', zorder=2)
            ax.text(120, base + 5.2 / s, vr[k], fontsize=21, ha='right', va='baseline', zorder=2)
            ax.text(0, base - 28 / s, amp[k], fontsize=21, ha='left', va='baseline', zorder=2)
            ax.text(120, base - 28 / s, cc[k], fontsize=21, ha='right', va='baseline', zorder=2)
            k += 1

# legend
for yy, col, lab in [(2797, 'black', 'observed waveforms'), (2830, '#ff0000', 'synthetic waveforms')]:
    fig.add_artist(plt.Line2D([1375 / W, 1462 / W], [1 - yy / H, 1 - yy / H],
                              color=col, lw=2.4, transform=fig.transFigure))
    fig.text(1476 / W, 1 - yy / H, lab, fontsize=19, ha='left', va='center', color='#1a1a1a')

fig.savefig('out.png', dpi=100)
